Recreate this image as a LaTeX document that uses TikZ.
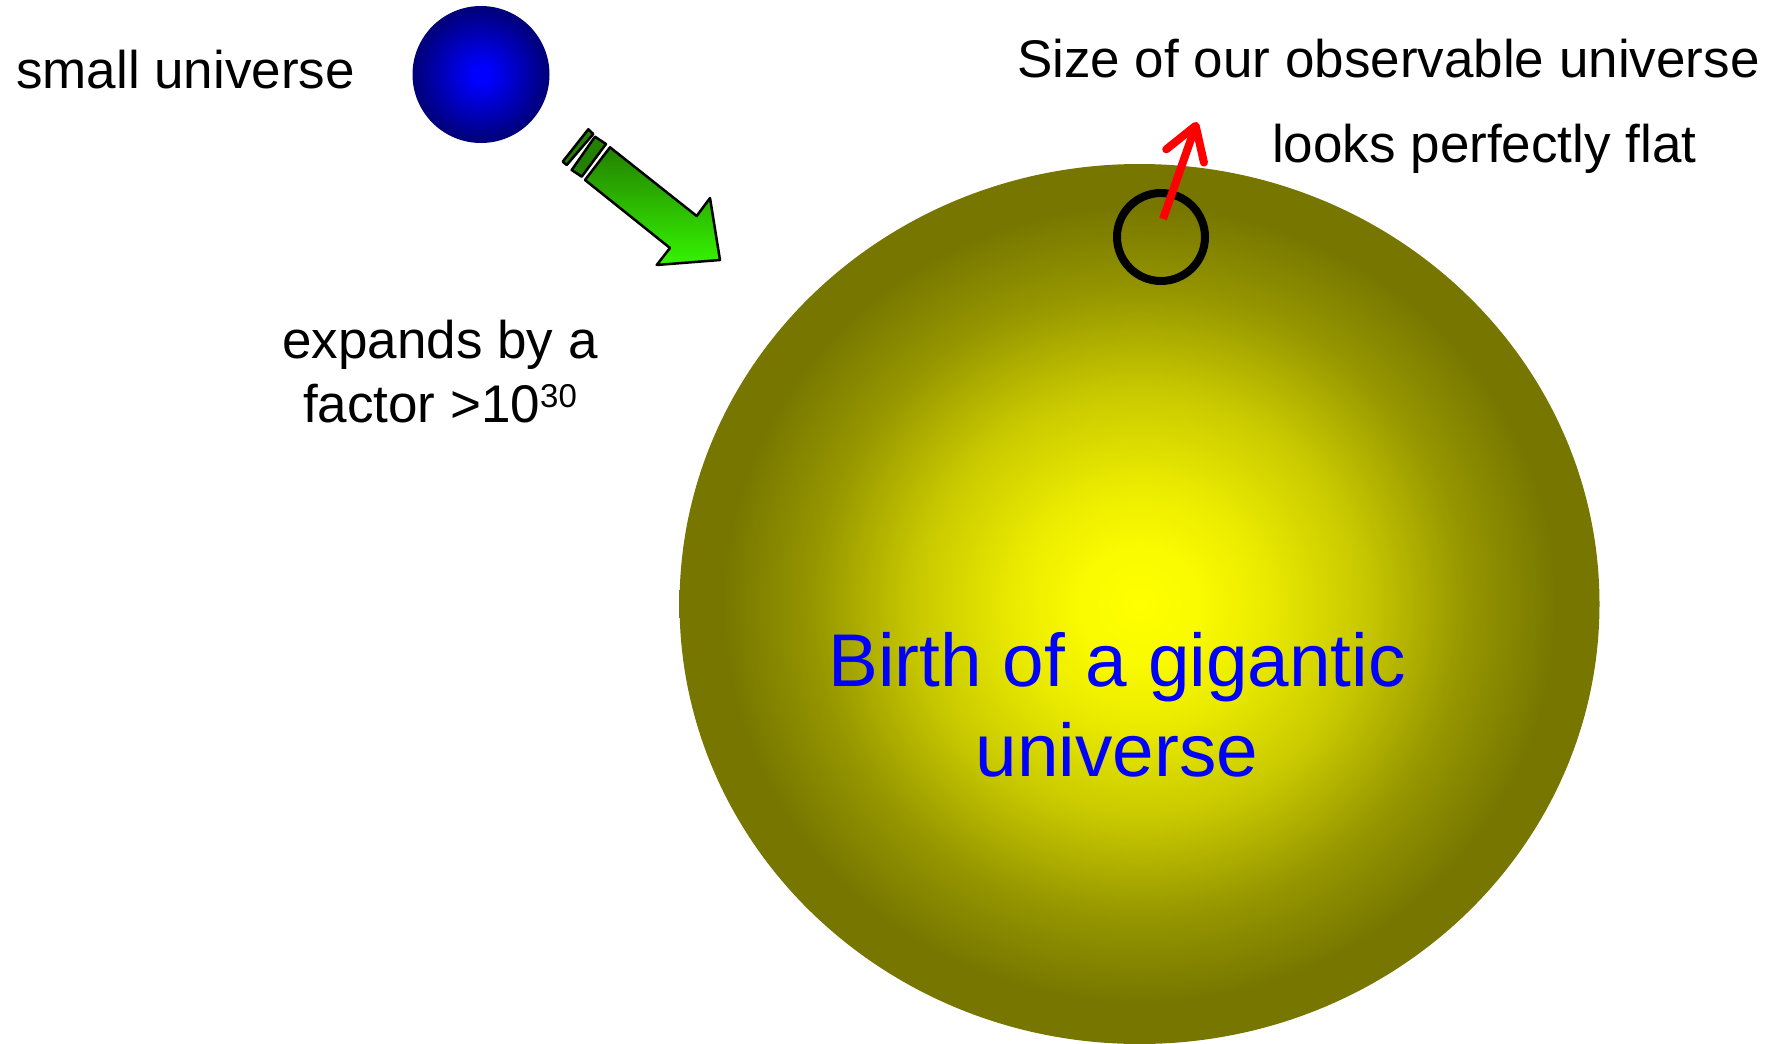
\documentclass[tikz,border=0pt]{standalone}
\usepackage{fontspec}
\setmainfont{Liberation Sans}
\usetikzlibrary{arrows.meta}
\definecolor{olivedark}{RGB}{118,118,0}
\definecolor{yA}{RGB}{255,255,0}
\definecolor{yB}{RGB}{250,250,0}
\definecolor{yC}{RGB}{235,235,0}
\definecolor{yD}{RGB}{200,200,0}
\definecolor{yE}{RGB}{150,150,0}
\definecolor{navy}{RGB}{0,0,125}
\definecolor{pureblue}{RGB}{0,0,255}
\definecolor{darkgreen}{RGB}{36,128,0}
\definecolor{lightgreen}{RGB}{52,245,0}
\pgfdeclareradialshading{bigshade}{\pgfpoint{0bp}{0bp}}{color(0bp)=(yA); color(3.25bp)=(yB); color(6.75bp)=(yC); color(12.25bp)=(yD); color(17.75bp)=(yE); color(22.75bp)=(olivedark); color(25bp)=(olivedark); color(50bp)=(olivedark)}
\pgfdeclareradialshading{ballshade}{\pgfpoint{0bp}{0bp}}{color(0bp)=(pureblue); color(3bp)=(pureblue); color(24bp)=(navy); color(25bp)=(navy); color(50bp)=(navy)}
\tikzset{
  label53/.style={font=\fontsize{53}{64}\selectfont, inner sep=0pt},
  bigblue/.style={font=\fontsize{74.7}{90}\selectfont, text=pureblue, inner sep=0pt, align=center},
  greenpart/.style={draw=black, line width=2.5pt, line join=round},
}
\begin{document}
\begin{tikzpicture}[x=1pt,y=-1pt]
\useasboundingbox (0,0) rectangle (1778,1044);
% big universe
\shade[shading=bigshade] (1139.5,604) ellipse [x radius=460, y radius=440];
% small universe
\shade[shading=ballshade] (481,74.5) circle (68.5);
% green arrow
\fill[darkgreen] (588.3,129.3) -- (593.3,134) -- (566.7,165) -- (562.7,161.7) -- cycle;
\draw[greenpart] (588.3,129.3) -- (593.3,134) -- (566.7,165) -- (562.7,161.7) -- cycle;
\fill[darkgreen] (595,136.7) -- (606,144) -- (581.7,176.7) -- (571.7,170) -- cycle;
\draw[greenpart] (595,136.7) -- (606,144) -- (581.7,176.7) -- (571.7,170) -- cycle;
\shade[top color=darkgreen, bottom color=lightgreen] (610,147.3) -- (696.7,216) -- (710,198) -- (720,260) -- (656.7,265) -- (670,248) -- (585,180) -- cycle;
\draw[greenpart] (610,147.3) -- (696.7,216) -- (710,198) -- (720,260) -- (656.7,265) -- (670,248) -- (585,180) -- cycle;
% observable universe circle
\node[draw=black, line width=8pt, circle, minimum size=88pt, inner sep=0pt] (obs) at (1161,237) {};
\coordinate (arrowtip) at (1197,122);
\draw[red, line width=8pt, -{Straight Barb[round,length=32pt,width=40pt]}] (obs.center) ++(2,-18) -- (arrowtip);
% texts
\node[label53, anchor=base west] (t1) at (16,88.5) {small universe};
\node[label53, anchor=base west] (t2) at (1017,77) {Size of our observable universe};
\node[label53, anchor=base west] (t3) at (1272,162) {looks perfectly flat};
\node[label53, anchor=base, align=center] (t4) at (440,422) {expands by a\\factor >10\raisebox{15pt}{\fontsize{33}{33}\selectfont 30}};
\node[bigblue, anchor=base] (t5) at (1117,776) {Birth of a gigantic\\universe};
\end{tikzpicture}
\end{document}
